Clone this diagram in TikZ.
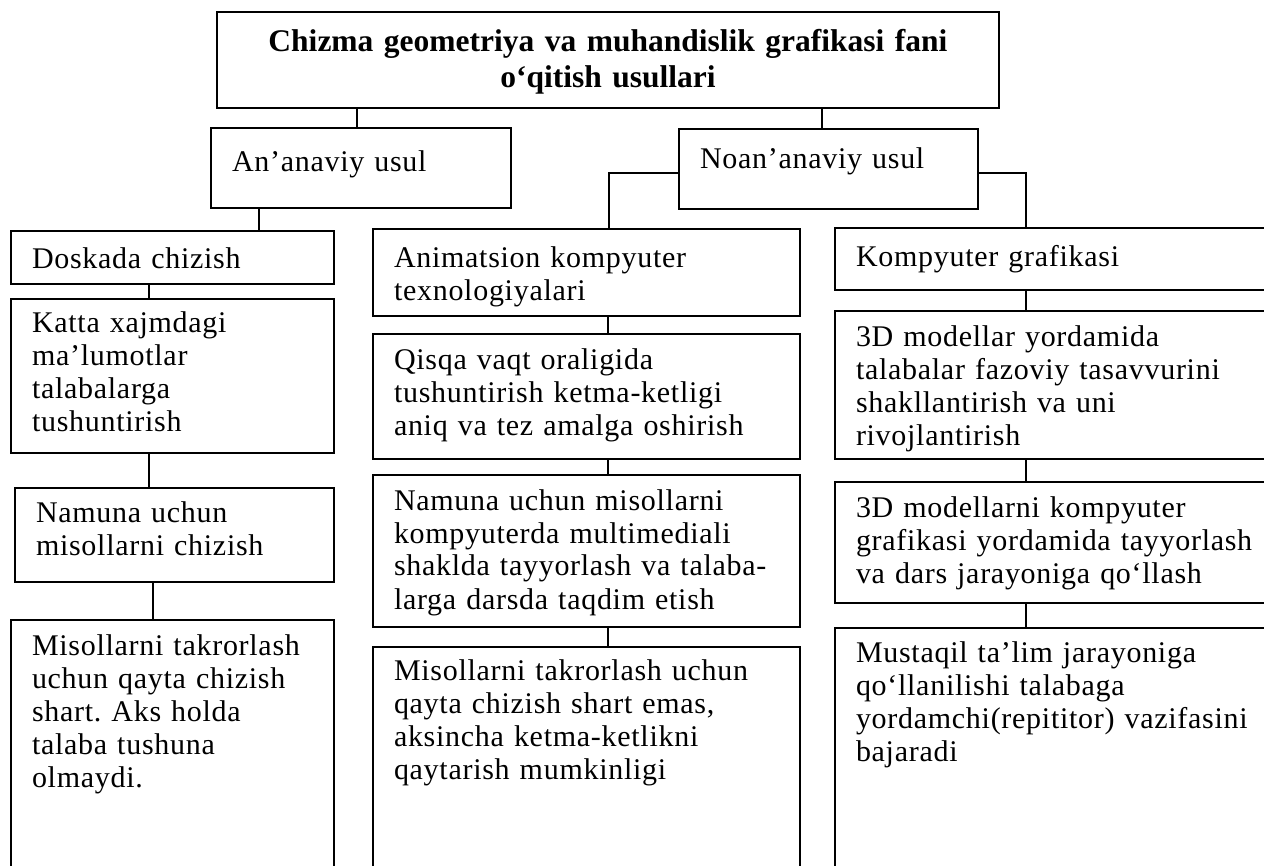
\documentclass[tikz,border=0pt]{standalone}
\usepackage{fontspec}
\setmainfont{Liberation Serif}
\frenchspacing
\newcommand{\bodyfont}{\fontsize{30}{33}\selectfont\addfontfeatures{LetterSpace=2.4}}
\newcommand{\headfont}{\fontsize{31.5}{36}\selectfont\bfseries}

\tikzset{
  box/.style={draw, line width=1.4pt, anchor=north west, inner xsep=21pt, inner ysep=0pt,
    outer sep=0pt, align=left, font=\bodyfont},
  headbox/.style={box, inner xsep=0pt, align=center, font=\headfont},
  link/.style={line width=1.4pt}
}

\begin{document}
\begin{tikzpicture}[x=1pt, y=-1pt]
\useasboundingbox (0,0) rectangle (1264,866);

% top levels
\node[headbox, text width=782pt, text height=40pt, text depth=56pt] (title) at (217,12)
  {Chizma geometriya va muhandislik grafikasi fani\\ o‘qitish usullari};
\node[box, text width=258pt, text height=44pt, text depth=36pt] (anan) at (211,128) {An’anaviy usul};
\node[box, text width=257pt, text height=40pt, text depth=40pt] (noan) at (679,129) {Noan’anaviy usul};

% left column
\node[box, text width=281pt, text height=38pt, text depth=15pt] (dosk) at (11,231) {Doskada chizish};
\node[box, text width=281pt, text height=34pt, text depth=120pt] (katta) at (11,299)
  {Katta xajmdagi\\ ma’lumotlar\\ talabalarga\\ tushuntirish};
\node[box, text width=277pt, text height=34pt, text depth=60pt] (naml) at (15,488)
  {Namuna uchun\\ misollarni chizish};
\node[box, text width=281pt, text height=35pt, text depth=300pt] (misl) at (11,620)
  {Misollarni takrorlash\\ uchun qayta chizish\\ shart. Aks holda\\ talaba tushuna\\ olmaydi.};

% middle column
\node[box, text width=385pt, text height=39pt, text depth=48pt] (anim) at (373,229)
  {Animatsion kompyuter\\ texnologiyalari};
\node[box, text width=385pt, text height=36pt, text depth=89pt] (qisq) at (373,334)
  {Qisqa vaqt oraligida\\ tushuntirish ketma-ketligi\\ aniq va tez amalga oshirish};
\node[box, text width=385pt, text height=35pt, text depth=117pt] (namm) at (373,475)
  {Namuna uchun misollarni\\ kompyuterda multimediali\\ shaklda tayyorlash va talaba-\\ larga darsda taqdim etish};
\node[box, text width=385pt, text height=33pt, text depth=300pt] (mism) at (373,647)
  {Misollarni takrorlash uchun\\ qayta chizish shart emas,\\ aksincha ketma-ketlikni\\ qaytarish mumkinligi};

% right column
\node[box, text width=413pt, text height=39pt, text depth=23pt] (kgraf) at (835,228) {Kompyuter grafikasi};
\node[box, text width=413pt, text height=36pt, text depth=112pt] (mod) at (835,311)
  {3D modellar yordamida\\ talabalar fazoviy tasavvurini\\ shakllantirish va uni\\ rivojlantirish};
\node[box, text width=413pt, text height=35pt, text depth=86pt] (modk) at (835,482)
  {3D modellarni kompyuter\\ grafikasi yordamida tayyorlash\\ va dars jarayoniga qo‘llash};
\node[box, text width=413pt, text height=34pt, text depth=300pt] (must) at (835,628)
  {Mustaqil ta’lim jarayoniga\\ qo‘llanilishi talabaga\\ yordamchi(repititor) vazifasini\\ bajaradi};

% links
\draw[link] ([xshift=146pt]anan.north west) -- ([xshift=146pt]anan.north west |- title.south);
\draw[link] ([xshift=143pt]noan.north west) -- ([xshift=143pt]noan.north west |- title.south);
\draw[link] ([xshift=48pt]anan.south west) -- ([xshift=48pt]anan.south west |- dosk.north);
\draw[link] ([yshift=-4pt]noan.west) -| ([xshift=236pt]anim.north west);
\draw[link] ([yshift=-4pt]noan.east) -| ([xshift=191pt]kgraf.north west);
\foreach \a/\b in {dosk/katta, katta/naml, naml/misl}
  \draw[link] ([xshift=138pt]\a.south west) -- ([xshift=138pt]\a.south west |- \b.north);
\foreach \a/\b in {anim/qisq, qisq/namm, namm/mism}
  \draw[link] ([xshift=235pt]\a.south west) -- ([xshift=235pt]\a.south west |- \b.north);
\foreach \a/\b in {kgraf/mod, mod/modk, modk/must}
  \draw[link] ([xshift=191pt]\a.south west) -- ([xshift=191pt]\a.south west |- \b.north);
\end{tikzpicture}
\end{document}
